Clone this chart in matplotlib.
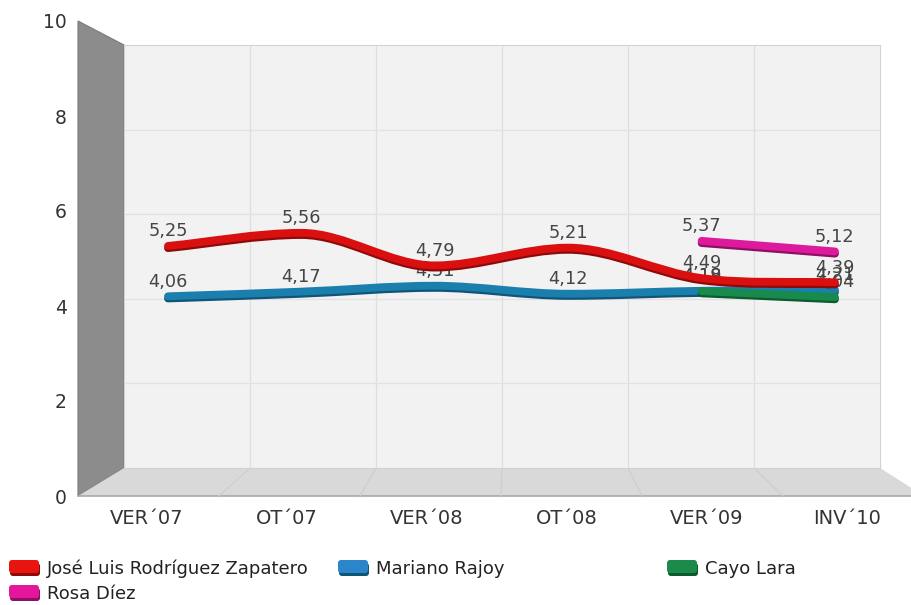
import numpy as np
import matplotlib
matplotlib.use("Agg")
import matplotlib.pyplot as plt
from matplotlib.path import Path
from matplotlib.patches import PathPatch, Polygon, FancyBboxPatch
import matplotlib.patheffects as pe

# valoraciones por oleada (None = sin dato)
oleadas = ["VER´07", "OT´07", "VER´08", "OT´08", "VER´09", "INV´10"]
zapatero = [5.25, 5.56, 4.79, 5.21, 4.49, 4.39]
rajoy = [4.06, 4.17, 4.31, 4.12, 4.19, 4.21]
cayo_lara = [None, None, None, None, 4.18, 4.04]
rosa_diez = [None, None, None, None, 5.37, 5.12]

nombres = ["José Luis Rodríguez Zapatero", "Mariano Rajoy", "Cayo Lara", "Rosa Díez"]
colores = ["#d9100f", "#1b7fae", "#178a4c", "#dc1a9b"]
oscuros = ["#8e0a0a", "#0f5577", "#0c5a30", "#8f0f63"]
leyenda_col = ["#e8140f", "#2a86c8", "#1b8a4b", "#e3169c"]

W, H = 911, 605
fig = plt.figure(figsize=(W / 100, H / 100), dpi=100)


def rect(x0, y0, x1, y1):
    # pixel box (top-left origin) -> figure fraction
    return [x0 / W, 1 - y1 / H, (x1 - x0) / W, (y1 - y0) / H]


# background layer in pixel coordinates for walls, floor and legend
bg = fig.add_axes([0, 0, 1, 1], zorder=0)
bg.set_xlim(0, W)
bg.set_ylim(H, 0)
bg.axis("off")

back = (124, 45, 880, 468)
front = (78, 21, 924, 496)

bg.add_patch(Polygon([(78, 21), (124, 45), (124, 468), (78, 496)],
                     closed=True, fc="#8c8c8c", ec="#7a7a7a", lw=0.8))
bg.add_patch(Polygon([(124, 468), (880, 468), (924, 496), (78, 496)],
                     closed=True, fc="#d9d9d9", ec="none"))
bg.plot([78, 924], [496, 496], color="#a8a8a8", lw=1.2)
for k in range(1, 6):
    xb = 124 + (880 - 124) * k / 6
    xf = 78 + (924 - 78) * k / 6
    bg.plot([xb, xf], [468, 496], color="#cdcdcd", lw=0.8)

# back wall with the series
ax = fig.add_axes(rect(*back), zorder=1)
ax.set_facecolor("#f2f2f2")
for s in ax.spines.values():
    s.set_color("#d2d2d2")
ax.set_ylim(0, 10)
x0_px, step_px = 168, 133.4
ax.set_xlim((back[0] - x0_px) / step_px, (back[2] - x0_px) / step_px)
ax.set_xticks([])
ax.set_yticks([])
for k in range(1, 6):
    ax.plot([k / 6, k / 6], [0, 1], transform=ax.transAxes, color="#dedede", lw=0.9, zorder=1)
for v in (2, 4, 6, 8):
    ax.axhline(v, color="#e2e2e2", lw=0.9, zorder=1)


def curva(xs, ys):
    # smooth path through the points, flat tangents at local peaks
    xs = np.asarray(xs, float)
    ys = np.asarray(ys, float)
    n = len(xs)
    d = np.diff(ys) / np.diff(xs)
    m = np.zeros(n)
    m[0], m[-1] = d[0], d[-1]
    for i in range(1, n - 1):
        if d[i - 1] * d[i] > 0:
            m[i] = (d[i - 1] + d[i]) / 2
    verts = [(xs[0], ys[0])]
    codes = [Path.MOVETO]
    for i in range(n - 1):
        h = (xs[i + 1] - xs[i]) / 3
        verts += [(xs[i] + h, ys[i] + m[i] * h),
                  (xs[i + 1] - h, ys[i + 1] - m[i + 1] * h),
                  (xs[i + 1], ys[i + 1])]
        codes += [Path.CURVE4] * 3
    return Path(verts, codes)


series = [rajoy, cayo_lara, rosa_diez, zapatero]
orden = [1, 2, 3, 0]
z = 3
for serie, idx in zip(series, orden):
    xs = [i for i, v in enumerate(serie) if v is not None]
    ys = [v for v in serie if v is not None]
    patch = PathPatch(curva(xs, ys), fc="none", ec=colores[idx], lw=5.6,
                      capstyle="round", joinstyle="round", zorder=z,
                      path_effects=[pe.Stroke(linewidth=5.6, foreground=oscuros[idx],
                                              offset=(0, -1.6)), pe.Normal()])
    ax.add_patch(patch)
    for x, y in zip(xs, ys):
        ax.annotate(f"{y:.2f}".replace(".", ","), (x, y), xytext=(0, 7),
                    textcoords="offset points", ha="center", va="baseline",
                    fontsize=12.8, color="#454545", zorder=z + 0.5)
    z += 1

# front plane: axis labels
fa = fig.add_axes(rect(*front), zorder=2)
fa.patch.set_visible(False)
for s in fa.spines.values():
    s.set_visible(False)
fa.set_ylim(0, 10)
fa.set_yticks(range(0, 11, 2))
lab0, lab_step = 147, 140
fa.set_xlim((front[0] - lab0) / lab_step, (front[2] - lab0) / lab_step)
fa.set_xticks(range(len(oleadas)))
fa.set_xticklabels(oleadas)
fa.tick_params(axis="y", length=0, pad=8, labelsize=13.5, labelcolor="#333333")
fa.tick_params(axis="x", length=0, pad=9, labelsize=14, labelcolor="#333333")

# legend
entradas = [(9, 569, 0), (338, 569, 1), (667, 569, 2), (9, 594, 3)]
for lx, ly, idx in entradas:
    bg.add_patch(FancyBboxPatch((lx + 1, ly - 6), 30, 13,
                                boxstyle="round,pad=0,rounding_size=3",
                                fc=oscuros[idx], ec="none"))
    bg.add_patch(FancyBboxPatch((lx, ly - 9), 30, 13,
                                boxstyle="round,pad=0,rounding_size=3",
                                fc=leyenda_col[idx], ec="none"))
    bg.text(lx + 38, ly, nombres[idx], fontsize=13, color="#222222",
            ha="left", va="center")

fig.savefig("out.png", dpi=100)
